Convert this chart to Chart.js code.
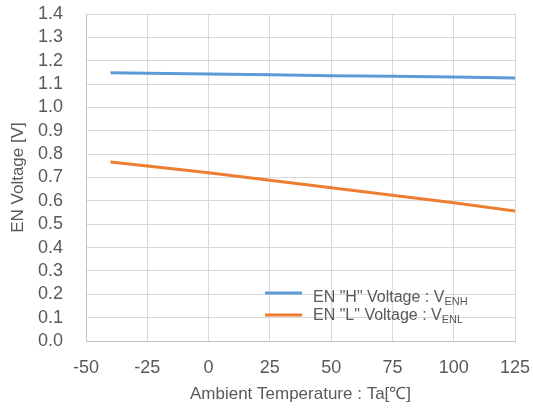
<!DOCTYPE html>
<html>
<head>
<meta charset="utf-8">
<script src="https://cdn.jsdelivr.net/npm/chart.js@4"></script>
<style>
  html, body { margin: 0; padding: 0; background: #fff; }
  #wrap { width: 533px; height: 412px; }
</style>
</head>
<body>
<div id="wrap"><canvas id="myChart" width="533" height="412"></canvas></div>
<script>
  // data
  const temps = [-40, -25, 0, 25, 50, 75, 100, 125];
  const vEnh = [1.148, 1.146, 1.143, 1.140, 1.136, 1.133, 1.130, 1.126];
  const vEnl = [0.766, 0.749, 0.720, 0.688, 0.656, 0.624, 0.592, 0.557];
  const seriesNames = ['EN "H" Voltage : V', 'EN "L" Voltage : V'];
  const seriesSubs = ['ENH', 'ENL'];
  const colors = ['#5b9bd5', '#ed7d31'];

  const FONT = '"Liberation Sans", Arial, sans-serif';
  const GREY = '#595959';

  // legend with subscripts, drawn inside the plot
  const subLegend = {
    id: 'subLegend',
    afterDraw(chart) {
      const c = chart.ctx;
      c.save();
      for (let i = 0; i < seriesNames.length; i++) {
        const y = 293 + i * 22;
        c.strokeStyle = colors[i];
        c.lineWidth = 3;
        c.beginPath();
        c.moveTo(265, y);
        c.lineTo(302, y);
        c.stroke();
        c.fillStyle = GREY;
        c.textBaseline = 'middle';
        c.font = '16px ' + FONT;
        const ty = y + (i === 0 ? 5 : 1);
        c.fillText(seriesNames[i], 313, ty);
        const w = c.measureText(seriesNames[i]).width;
        c.font = '11px ' + FONT;
        c.fillText(seriesSubs[i], 313 + w, ty + 4);
      }
      c.restore();
    }
  };

  const ctx = document.getElementById('myChart').getContext('2d');
  const myChart = new Chart(ctx, {
    type: 'line',
    data: {
      datasets: [{
        label: seriesNames[0] + seriesSubs[0],
        data: temps.map((t, i) => ({ x: t, y: vEnh[i] })),
        borderColor: colors[0],
        borderWidth: 3,
        pointRadius: 0,
        tension: 0
      }, {
        label: seriesNames[1] + seriesSubs[1],
        data: temps.map((t, i) => ({ x: t, y: vEnl[i] })),
        borderColor: colors[1],
        borderWidth: 3,
        pointRadius: 0,
        tension: 0
      }]
    },
    options: {
      responsive: false,
      animation: false,
      layout: { padding: { left: 0, right: 18, top: 14, bottom: 0 } },
      plugins: {
        legend: { display: false },
        tooltip: { enabled: false }
      },
      scales: {
        x: {
          type: 'linear',
          min: -50,
          max: 125,
          ticks: { stepSize: 25, autoSkip: false, maxRotation: 0, color: GREY, font: { family: FONT, size: 18 }, padding: 16 },
          grid: { color: '#d9d9d9', lineWidth: 1, drawTicks: false },
          border: { color: '#bfbfbf' },
          title: {
            display: true,
            text: 'Ambient Temperature : Ta[℃]',
            color: GREY,
            font: { family: FONT, size: 17 },
            padding: { top: 0, bottom: 7 }
          },
          afterFit(scale) {
            scale.height = 71;
            scale.paddingLeft = 0;
            scale.paddingRight = 0;
          }
        },
        y: {
          min: 0,
          max: 1.4,
          ticks: {
            stepSize: 0.1,
            autoSkip: false,
            color: GREY,
            font: { family: FONT, size: 18 },
            padding: 23,
            callback: v => v.toFixed(1)
          },
          grid: { color: '#d9d9d9', lineWidth: 1, drawTicks: false },
          border: { color: '#bfbfbf' },
          title: {
            display: true,
            text: 'EN Voltage [V]',
            color: GREY,
            font: { family: FONT, size: 17 },
            padding: { top: 8, bottom: 0 }
          },
          afterFit(scale) {
            scale.width = 86;
            scale.paddingTop = 0;
            scale.paddingBottom = 0;
          }
        }
      }
    },
    plugins: [subLegend]
  });
</script>
</body>
</html>
